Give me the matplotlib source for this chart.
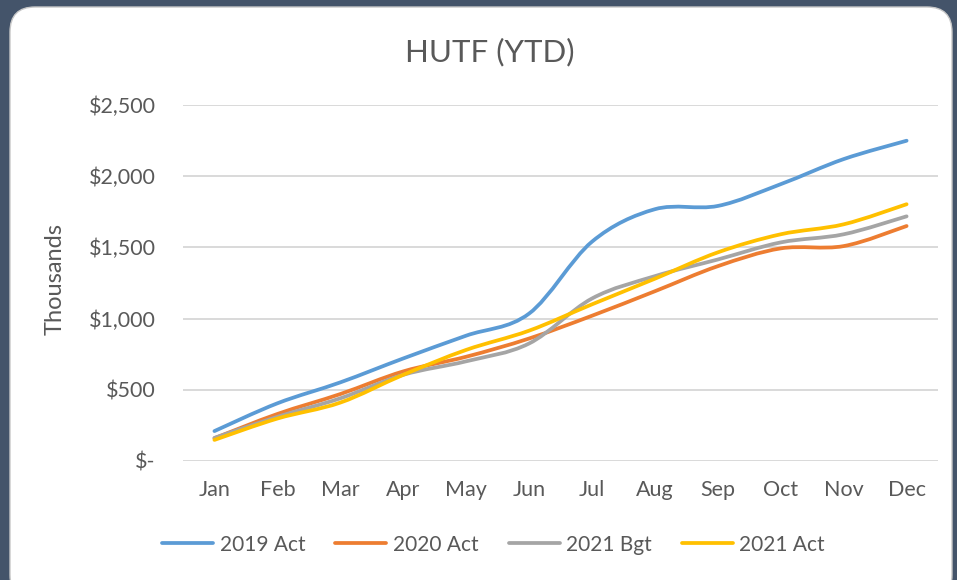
import numpy as np
import matplotlib
matplotlib.use('Agg')
import matplotlib.pyplot as plt
from matplotlib.path import Path
from matplotlib.patches import PathPatch, FancyBboxPatch
from matplotlib.lines import Line2D
from matplotlib.ticker import FuncFormatter

plt.rcParams['font.family'] = ['Lato', 'DejaVu Sans']

months = ['Jan', 'Feb', 'Mar', 'Apr', 'May', 'Jun', 'Jul', 'Aug', 'Sep', 'Oct', 'Nov', 'Dec']
act_2019 = [210, 405, 552, 720, 880, 1035, 1540, 1768, 1791, 1944, 2120, 2249]
act_2020 = [160, 330, 470, 629, 732, 860, 1020, 1192, 1368, 1493, 1509, 1650]
bgt_2021 = [162, 310, 440, 605, 700, 825, 1141, 1298, 1415, 1535, 1592, 1718]
act_2021 = [148, 298, 410, 605, 780, 915, 1100, 1280, 1465, 1592, 1662, 1803]

series = [('2019 Act', act_2019, '#5B9BD5'),
          ('2020 Act', act_2020, '#ED7D31'),
          ('2021 Bgt', bgt_2021, '#A5A5A5'),
          ('2021 Act', act_2021, '#FFC000')]

text_col = '#595959'


def smooth_path(x, y):
    # excel style smoothed line as cubic bezier segments
    pts = np.column_stack([x, y]).astype(float)
    verts = [pts[0]]
    codes = [Path.MOVETO]
    n = len(pts)
    for i in range(n - 1):
        p0 = pts[i - 1] if i > 0 else pts[i]
        p1 = pts[i]
        p2 = pts[i + 1]
        p3 = pts[i + 2] if i + 2 < n else pts[i + 1]
        verts += [p1 + (p2 - p0) / 6, p2 - (p3 - p1) / 6, p2]
        codes += [Path.CURVE4] * 3
    return Path(verts, codes)


fig = plt.figure(figsize=(9.57, 5.8), dpi=100)
fig.patch.set_facecolor('#44546A')

panel = FancyBboxPatch((0.10, -0.2), 9.42, 5.93,
                       boxstyle='round,pad=0,rounding_size=0.25',
                       transform=fig.dpi_scale_trans, facecolor='white',
                       edgecolor='#C8C8C8', linewidth=1.0, zorder=-10)
fig.patches.append(panel)

ax = fig.add_axes([0.1912, 0.2052, 0.789, 0.6138])
ax.set_facecolor('none')
ax.set_zorder(5)

x = np.arange(len(months))
handles = []
for name, vals, col in series:
    patch = PathPatch(smooth_path(x, vals), facecolor='none', edgecolor=col,
                      linewidth=2.7, capstyle='round', joinstyle='round', zorder=3)
    ax.add_patch(patch)
    handles.append(Line2D([], [], color=col, linewidth=2.7, solid_capstyle='round'))

ax.set_xlim(-0.5, 11.5)
ax.set_ylim(0, 2500)
ax.set_xticks(x)
ax.set_xticklabels(months)
ax.set_yticks(np.arange(0, 2501, 500))
ax.yaxis.set_major_formatter(FuncFormatter(lambda v, p: '$-' if v == 0 else '${:,.0f}'.format(v)))
ax.grid(axis='y', color='#D9D9D9', linewidth=1.4)
ax.set_axisbelow(True)
for s in ax.spines.values():
    s.set_visible(False)
ax.tick_params(axis='both', length=0, labelsize=15.5, labelcolor=text_col)
ax.tick_params(axis='y', pad=19.5)
ax.tick_params(axis='x', pad=14)

ax.set_ylabel('Thousands', fontsize=17, color=text_col)
ax.yaxis.set_label_coords(-0.156, 0.51)

fig.text(0.512, 0.91, 'HUTF (YTD)', ha='center', va='center', fontsize=22.5, color=text_col)

fig.legend(handles, [s[0] for s in series], loc='center', bbox_to_anchor=(0.5157, 0.061),
           ncol=4, frameon=False, fontsize=15, handlelength=2.45, handletextpad=0.3,
           columnspacing=1.45, labelcolor=text_col)

fig.savefig('out.png', dpi=100, facecolor=fig.get_facecolor())
